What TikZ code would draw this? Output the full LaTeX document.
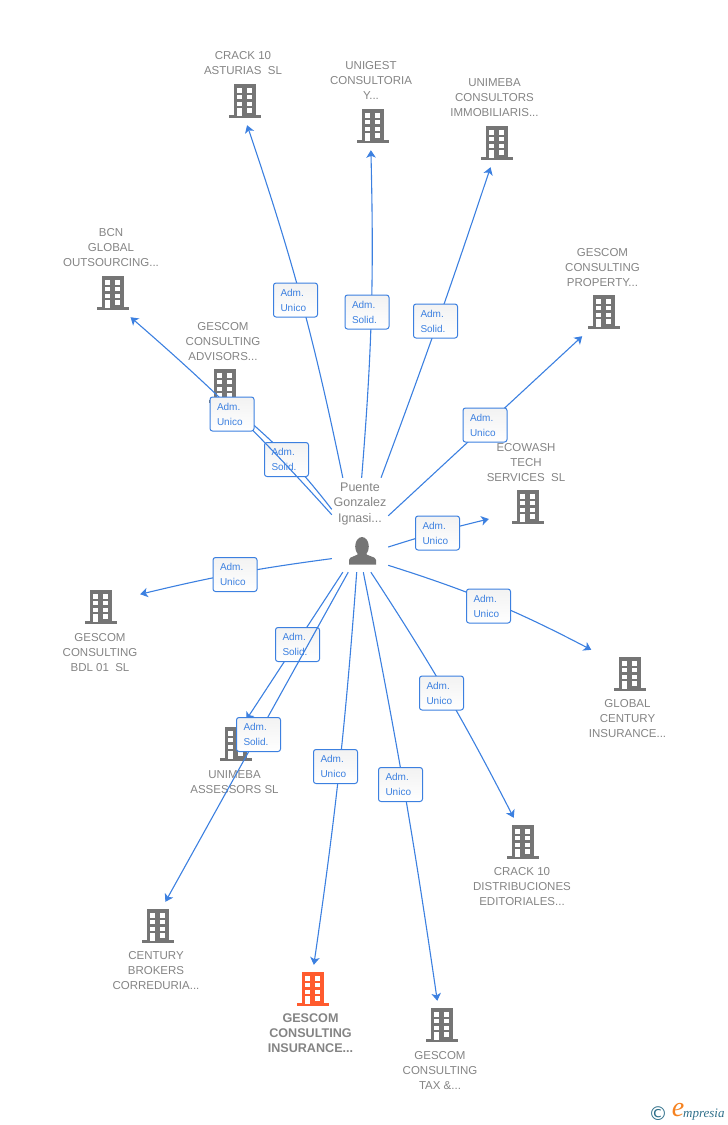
\documentclass[tikz,border=0pt]{standalone}
\usepackage{fontspec}
\setmainfont{Liberation Sans}
\newfontfamily\logofont{Liberation Serif}
\newfontfamily\copyfont{DejaVu Sans}
\usetikzlibrary{arrows.meta}

\definecolor{linkblue}{HTML}{3C80E0}
\definecolor{iconcol}{HTML}{757575}
\definecolor{hotcol}{HTML}{FF5B2E}
\definecolor{namecol}{HTML}{848484}
\definecolor{logocol}{HTML}{2F6F8A}
\definecolor{logoorange}{HTML}{F58220}

\tikzset{
	bldg/.style = {rectangle, minimum width = 78pt, minimum height = 48pt, inner sep = 0pt,
		path picture = {
			\begin{scope}[shift = {(path picture bounding box.center)}, x = 1pt, y = -1pt]
				\fill [#1] (-11, -16.7) rectangle (11, 15);
				\fill [#1] (-16, 14) rectangle (16, 17);
				\foreach \wy in {-12.7, -6, 0.7} {
					\fill [white] (-7.7, \wy) rectangle ++(5, 4.2);
					\fill [white] (2.4, \wy) rectangle ++(5, 4.2);
				}
				\fill [white] (-7.7, 7.3) rectangle (-2.7, 14.5);
				\fill [white] (2.4, 7.3) rectangle (7.4, 11.7);
			\end{scope}
		}},
	personbox/.style = {rectangle, minimum width = 56pt, minimum height = 94pt, inner sep = 0pt,
		path picture = {
			\begin{scope}[shift = {(path picture bounding box.center)}, x = 1pt, y = -1pt]
				\fill [iconcol] (2, 21.5) ellipse (6.8 and 9.5);
				\fill [iconcol] (-11, 39.5) -- (-11, 35) .. controls (-11, 31) and (-3, 32) .. (0, 27)
					-- (4, 27) .. controls (7, 32) and (16, 31) .. (16, 35) -- (16, 39.5) -- cycle;
			\end{scope}
		}},
	namelabel/.style = {align = center, text = namecol, inner sep = 0pt,
		font = \fontsize{11.5}{15}\selectfont},
	personlabel/.style = {align = center, text = namecol, inner sep = 0pt,
		font = \fontsize{12.5}{15.5}\selectfont},
	hotlabel/.style = {align = center, text = namecol, inner sep = 0pt,
		font = \fontsize{12.6}{15}\selectfont\bfseries},
	link/.style = {linkblue, line width = 1.1pt, -{Stealth[length = 7.5pt, width = 9.5pt, inset = 2pt]}},
	admbox/.style = {draw = linkblue, top color = black!5, bottom color = white, rounded corners = 2.5pt,
		line width = 1pt, text = linkblue, align = left, text width = 30pt, inner xsep = 7pt, inner ysep = 0pt,
		minimum height = 34pt, font = \fontsize{10}{15}\selectfont}
}

\begin{document}
\begin{tikzpicture}[x = 1pt, y = -1pt]
	\useasboundingbox (0, 0) rectangle (728, 1125);

	% buildings
	\node [bldg = iconcol] (crackast) at (245, 101) {};
	\node [bldg = iconcol] (unigest) at (373, 126) {};
	\node [bldg = iconcol] (unimebacons) at (497, 143) {};
	\node [bldg = iconcol] (property) at (604, 312) {};
	\node [bldg = iconcol] (bcn) at (113, 293) {};
	\node [bldg = iconcol] (advisors) at (225, 386) {};
	\node [bldg = iconcol] (ecowash) at (528, 507) {};
	\node [bldg = iconcol] (bdl) at (101, 607) {};
	\node [bldg = iconcol] (century) at (630, 674) {};
	\node [bldg = iconcol] (crackdist) at (523, 842) {};
	\node [bldg = iconcol] (assessors) at (236, 744) {};
	\node [bldg = iconcol] (brokers) at (158, 926) {};
	\node [bldg = hotcol] (insurance) at (313, 989) {};
	\node [bldg = iconcol] (tax) at (442, 1025) {};
	\node [personbox] (puente) at (360, 525) {};

	% names
	\node [namelabel] (crackastname) at (243, 63) {CRACK 10\\ASTURIAS\ \ SL};
	\node [namelabel] (unigestname) at (371, 80) {UNIGEST\\CONSULTORIA\\Y...};
	\node [namelabel] (unimebaconsname) at (494.5, 98) {UNIMEBA\\CONSULTORS\\IMMOBILIARIS...};
	\node [namelabel] (propertyname) at (602.5, 268) {GESCOM\\CONSULTING\\PROPERTY...};
	\node [namelabel] (bcnname) at (111, 248) {BCN\\GLOBAL\\OUTSOURCING...};
	\node [namelabel] (advisorsname) at (223, 342) {GESCOM\\CONSULTING\\ADVISORS...};
	\node [namelabel] (ecowashname) at (526, 463) {ECOWASH\\TECH\\SERVICES\ \ SL};
	\node [personlabel] (puentename) at (360, 503.5) {Puente\\Gonzalez\\Ignasi...};
	\node [namelabel] (bdlname) at (100, 653) {GESCOM\\CONSULTING\\BDL 01\ \ SL};
	\node [namelabel] (centuryname) at (627.5, 719) {GLOBAL\\CENTURY\\INSURANCE...};
	\node [namelabel] (crackdistname) at (522, 887) {CRACK 10\\DISTRIBUCIONES\\EDITORIALES...};
	\node [namelabel] (assessorsname) at (234.5, 782.5) {UNIMEBA\\ASSESSORS SL};
	\node [namelabel] (brokersname) at (156, 971) {CENTURY\\BROKERS\\CORREDURIA...};
	\node [hotlabel] (insurancename) at (310.5, 1033) {GESCOM\\CONSULTING\\INSURANCE...};
	\node [namelabel] (taxname) at (440, 1071) {GESCOM\\CONSULTING\\TAX \&...};

	% links
	\draw [link] (puente.110) to [bend right = 3.5] (crackast.-85);
	\node [admbox] (admcrackast) at (295.5, 300) {Adm.\\Unico};
	\draw [link] (puente.88) to [bend right = 3] (unigest.-95);
	\node [admbox] (admunigest) at (367, 312) {Adm.\\Solid.};
	\draw [link] (puente.66) to [bend right = 1] (unimebacons.-105);
	\node [admbox] (admunimebacons) at (435.5, 321) {Adm.\\Solid.};
	\draw [link] (puente.18) to (property.-132);
	\node [admbox] (admproperty) at (485, 425) {Adm.\\Unico};
	\draw [link] (puente.151) to [bend right = 6] (advisors.-65);
	\node [admbox] (admadvisors) at (286.5, 459.5) {Adm.\\Solid.};
	\draw [link] (puente.160) to [bend right = 3.5] (bcn.-54);
	\node [admbox] (admbcn) at (232, 414) {Adm.\\Unico};
	\draw [link] (puente.-38) to [bend left = 2] (ecowash.-163);
	\node [admbox] (admecowash) at (437.5, 533) {Adm.\\Unico};
	\draw [link] (puente.-55) to [bend left = 5] (century.148);
	\node [admbox] (admcentury) at (488.5, 606) {Adm.\\Unico};
	\draw [link] (puente.-130) to [bend right = 3] (bdl.18);
	\node [admbox] (admbdl) at (235, 574.5) {Adm.\\Unico};
	\draw [link] (puente.-77) to [bend left = 3] (crackdist.111);
	\node [admbox] (admcrackdist) at (441.5, 693) {Adm.\\Unico};
	\draw [link] (puente.-110) to (assessors.67);
	\node [admbox] (admassessors) at (297.5, 644.5) {Adm.\\Solid.};
	\draw [link] (puente.-104) to (brokers.73);
	\node [admbox] (admbrokers) at (258.5, 734.5) {Adm.\\Solid.};
	\draw [link] (puente.-94) to [bend left = 2] (insurance.88);
	\node [admbox] (adminsurance) at (335.5, 766.5) {Adm.\\Unico};
	\draw [link] (puente.-86) to [bend left = 1.5] (tax.101);
	\node [admbox] (admtax) at (400.5, 784.5) {Adm.\\Unico};

	% logo
	\node [text = logocol, font = \copyfont\fontsize{19}{19}\selectfont, inner sep = 0pt] (logoc) at (658, 1114) {©};
	\node [text = logoorange, font = \logofont\itshape\fontsize{28}{28}\selectfont, inner sep = 0pt] (logoe) at (678, 1110) {e};
	\node [text = logocol, font = \logofont\itshape\fontsize{13}{13}\selectfont, inner sep = 0pt, anchor = west] (logotext) at (683, 1115) {mpresia};
\end{tikzpicture}
\end{document}
